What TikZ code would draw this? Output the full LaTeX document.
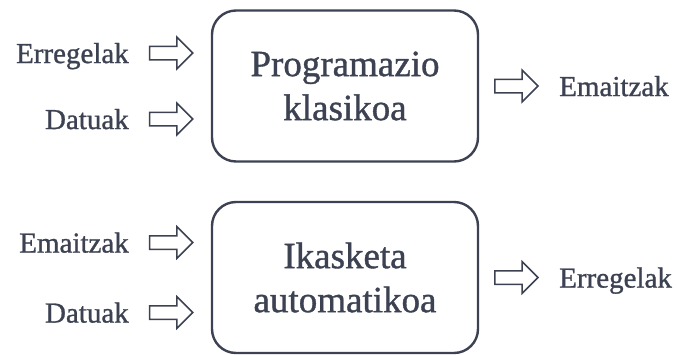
\documentclass[tikz,border=0pt]{standalone}
\usepackage{fontspec}
\setmainfont{Liberation Serif}[FakeBold=1]
\definecolor{inkGray}{HTML}{3C4252}
\usetikzlibrary{shapes.arrows, positioning}

\begin{document}
\begin{tikzpicture}[x=1pt, y=1pt,
  proc/.style={draw=inkGray, line width=2.4pt, rounded corners=24pt,
    minimum width=266pt, minimum height=151pt, align=center,
    text=inkGray, font=\fontsize{37}{44}\selectfont},
  flow/.style={single arrow, draw=inkGray, line width=1.5pt,
    minimum height=43pt, single arrow head extend=9pt,
    inner sep=0pt, text height=12pt, text depth=0pt, text width=0pt},
  lbl/.style={text=inkGray, font=\fontsize{29}{32}\selectfont,
    text depth=0pt, inner sep=0pt}]
  \useasboundingbox (0,0) rectangle (678,-354);

  % classic programming
  \node[proc] (prog) at (345,-86) {Programazio\\klasikoa};
  \node[flow, left=17pt of prog.west, yshift=33pt] (a1) {};
  \node[flow, left=17pt of prog.west, yshift=-33pt] (a2) {};
  \node[flow, right=15pt of prog.east] (a3) {};
  \node[lbl, left=20pt of a1] (rules1) {Erregelak};
  \node[lbl, left=20pt of a2] (data1) {Datuak};
  \node[lbl, right=20pt of a3] (out1) {Emaitzak};

  % machine learning
  \node[proc] (ml) at (345,-277.5) {Ikasketa\\automatikoa};
  \node[flow, left=17pt of ml.west, yshift=35pt] (b1) {};
  \node[flow, left=17pt of ml.west, yshift=-35pt] (b2) {};
  \node[flow, right=15pt of ml.east] (b3) {};
  \node[lbl, left=20pt of b1] (res2) {Emaitzak};
  \node[lbl, left=20pt of b2] (data2) {Datuak};
  \node[lbl, right=20pt of b3] (rules2) {Erregelak};
\end{tikzpicture}
\end{document}
